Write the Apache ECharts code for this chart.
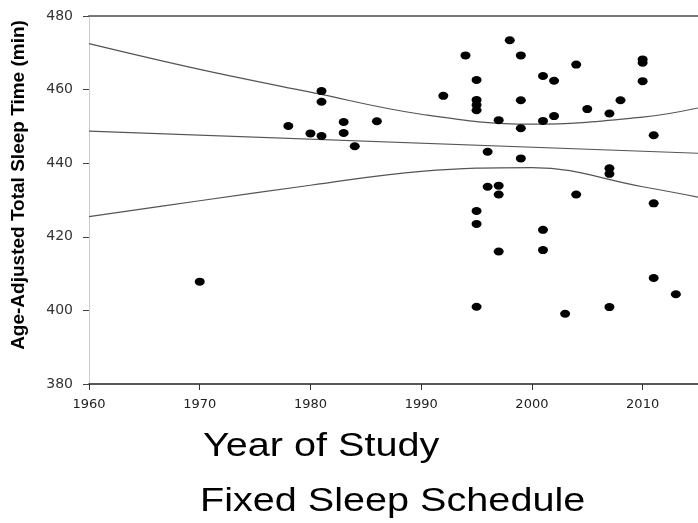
<!DOCTYPE html>
<html>
<head>
<meta charset="utf-8">
<script src="https://cdn.jsdelivr.net/npm/echarts@6/dist/echarts.min.js"></script>
<style>
html,body{margin:0;padding:0;background:#fff;}
#c{width:698px;height:523px;}
</style>
</head>
<body>
<div id="c"></div>
<script>
// Study points: year of study and age-adjusted total sleep time (min)
const studyYears = [1970,1978,1980,1981,1981,1981,1983,1983,1984,1986,1992,1994,1995,1995,1995,1995,1995,1995,1995,1996,1996,1997,1997,1997,1997,1998,1999,1999,1999,1999,2001,2001,2001,2001,2002,2002,2003,2004,2004,2005,2007,2007,2007,2007,2008,2010,2010,2010,2011,2011,2011,2013];
const sleepMinutes = [407.8,450.1,448.1,459.6,456.7,447.4,451.2,448.2,444.6,451.4,458.3,469.3,462.6,457.2,455.8,454.4,427.0,423.5,401.0,443.1,433.6,451.7,433.9,431.5,416.0,473.4,469.3,457.1,449.5,441.3,463.7,451.5,421.9,416.4,462.4,452.8,399.1,466.8,431.5,454.7,453.5,438.6,437.1,400.9,457.1,468.2,467.3,462.3,447.6,429.1,408.8,404.4];

// Regression line and confidence band
const fitYears = [1960, 2015];
const fitValues = [448.7, 442.7];
const bandYears = [1960, 1970, 1980, 1990, 2000, 2010, 2015];
const upperValues = [472.5, 465.5, 459.3, 453.3, 450.6, 452.5, 455.0];
const lowerValues = [425.5, 429.8, 434.0, 437.8, 438.8, 433.6, 430.8];

const yTicks = [380, 400, 420, 440, 460, 480];
const xTicks = [1960, 1970, 1980, 1990, 2000, 2010];

const zip = (a, b) => a.map((v, i) => [v, b[i]]);

const chart = echarts.init(document.getElementById('c'), null, {renderer: 'canvas'});
const lineStyle = {color: '#555', width: 1.2};
chart.setOption({
  backgroundColor: '#fff',
  animation: false,
  grid: {left: 89, top: 16, bottom: 139, right: -5, containLabel: false},
  xAxis: [{
    type: 'value', min: xTicks[0], max: 2015, interval: 10,
    axisLine: {show: true, onZero: false, lineStyle: {color: '#222', width: 1.5}},
    axisTick: {show: true, length: 6, lineStyle: {color: '#333', width: 1}},
    axisLabel: {show: true, showMaxLabel: false, margin: 14, color: '#222', fontSize: 13, fontFamily: 'DejaVu Sans',
                formatter: v => String(v)},
    splitLine: {show: false}
  }, {
    type: 'value', position: 'top', min: xTicks[0], max: 2015,
    axisLine: {show: true, onZero: false, lineStyle: {color: '#777', width: 2}},
    axisTick: {show: false}, axisLabel: {show: false}, splitLine: {show: false}
  }],
  yAxis: {
    type: 'value', min: yTicks[0], max: yTicks[yTicks.length - 1], interval: 20,
    axisLine: {show: true, onZero: false, lineStyle: {color: '#ccc', width: 1}},
    axisTick: {show: true, length: 6, lineStyle: {color: '#444', width: 1}},
    axisLabel: {margin: 16, color: '#333', fontSize: 14, fontFamily: 'DejaVu Sans', formatter: v => String(v)},
    splitLine: {show: false}
  },
  series: [
    {type: 'line', data: zip(fitYears, fitValues), showSymbol: false, lineStyle: lineStyle, z: 1},
    {type: 'line', data: zip(bandYears, upperValues), showSymbol: false, smooth: 0.4, lineStyle: lineStyle, z: 1},
    {type: 'line', data: zip(bandYears, lowerValues), showSymbol: false, smooth: 0.4, lineStyle: lineStyle, z: 1},
    {type: 'scatter', data: zip(studyYears, sleepMinutes), symbol: 'circle', symbolSize: [10, 8],
     itemStyle: {color: '#000', opacity: 1}, z: 3}
  ],
  graphic: [
    {type: 'text', x: 19, y: 185, rotation: Math.PI / 2,
     style: {text: 'Age-Adjusted Total Sleep Time (min)', fill: '#000', font: 'bold 19px "Liberation Sans", Arial, sans-serif', align: 'center', verticalAlign: 'middle'}},
    {type: 'text', x: 203, y: 447, scaleX: 1.2,
     style: {text: 'Year of Study', fill: '#000', font: '33px "Liberation Sans", Arial, sans-serif', align: 'left', verticalAlign: 'middle'}},
    {type: 'text', x: 200, y: 502, scaleX: 1.2,
     style: {text: 'Fixed Sleep Schedule', fill: '#000', font: '33px "Liberation Sans", Arial, sans-serif', align: 'left', verticalAlign: 'middle'}}
  ]
});
</script>
</body>
</html>
